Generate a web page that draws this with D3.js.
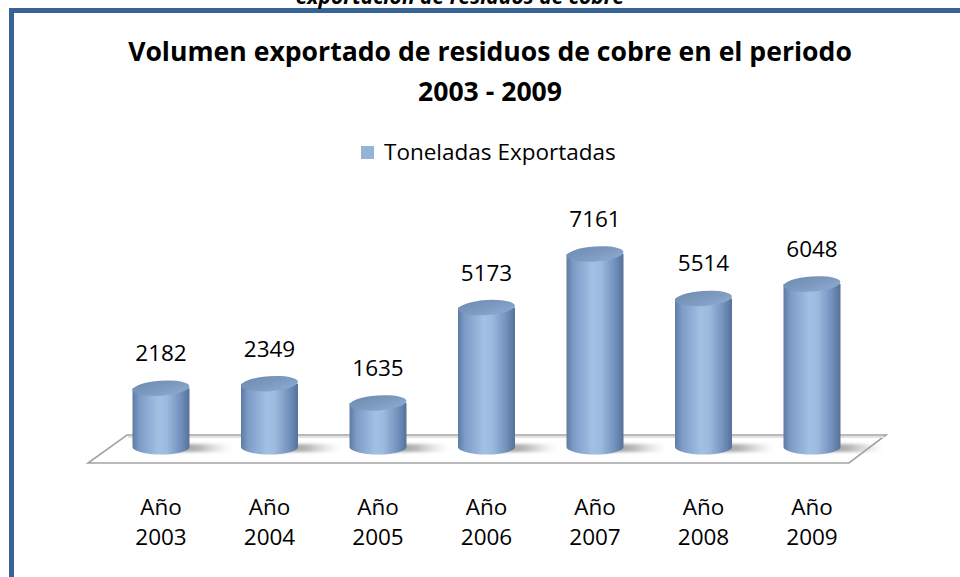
<!DOCTYPE html>
<html>
<head>
<meta charset="utf-8">
<script src="https://cdn.jsdelivr.net/npm/d3@7"></script>
<style>
  html, body { margin: 0; padding: 0; background: #fff; }
  svg { display: block; }
</style>
</head>
<body>
<script>
// ---- data ----
const categories = ["Año 2003", "Año 2004", "Año 2005", "Año 2006", "Año 2007", "Año 2008", "Año 2009"];
const values = [2182, 2349, 1635, 5173, 7161, 5514, 6048];
const seriesName = "Toneladas Exportadas";
const titleLines = ["Volumen exportado de residuos de cobre en el periodo", "2003 - 2009"];
const topCaption = "exportación de residuos de cobre";

const W = 960, H = 577;
const FONT = "'Open Sans', Lato, sans-serif";

const svg = d3.select("body").append("svg").attr("width", W).attr("height", H);
const defs = svg.append("defs");

// gradients
const bodyGrad = defs.append("linearGradient").attr("id", "cylBody").attr("x1", "0").attr("x2", "1").attr("y1", "0").attr("y2", "0");
[[0, "#5d7ba3"], [0.12, "#7c9bc6"], [0.45, "#a2bfe4"], [0.6, "#9db9de"], [0.85, "#7190bb"], [1, "#55719a"]]
  .forEach(([o, c]) => bodyGrad.append("stop").attr("offset", o).attr("stop-color", c));
const topGrad = defs.append("linearGradient").attr("id", "cylTop").attr("x1", "0").attr("x2", "1").attr("y1", "0").attr("y2", "1");
[[0, "#6e8bb3"], [0.5, "#7d99bf"], [1, "#8eabd2"]]
  .forEach(([o, c]) => topGrad.append("stop").attr("offset", o).attr("stop-color", c));
const shGrad = defs.append("linearGradient").attr("id", "shadowGrad").attr("x1", "0").attr("x2", "1").attr("y1", "0").attr("y2", "0");
[[0, "#6a6a6a", 0.85], [0.55, "#8a8a8a", 0.6], [1, "#bbbbbb", 0]]
  .forEach(([o, c, a]) => shGrad.append("stop").attr("offset", o).attr("stop-color", c).attr("stop-opacity", a));
const blur = defs.append("filter").attr("id", "shadowBlur").attr("x", "-50%").attr("y", "-200%").attr("width", "200%").attr("height", "500%");
blur.append("feGaussianBlur").attr("stdDeviation", "2 1.5");

// ---- frame border ----
svg.append("path")
  .attr("d", "M11.5,577 L11.5,10.5 L960,10.5")
  .attr("fill", "none").attr("stroke", "#386396").attr("stroke-width", 5);

// caption above the frame (cut off by the frame edge as in the reference)
svg.append("text")
  .attr("x", 460).attr("y", 4)
  .attr("text-anchor", "middle")
  .attr("font-family", FONT).attr("font-style", "italic").attr("font-weight", "bold")
  .attr("font-size", 21).attr("fill", "#000")
  .text(topCaption);

// ---- title ----
svg.append("g").selectAll("text").data(titleLines).join("text")
  .attr("x", 490).attr("y", (d, i) => 61 + i * 40)
  .attr("text-anchor", "middle")
  .attr("font-family", FONT).attr("font-weight", "bold").attr("font-size", 26.6)
  .attr("fill", "#000")
  .text(d => d);

// ---- legend ----
const legend = svg.append("g").attr("transform", "translate(361,146)");
legend.append("rect").attr("width", 13).attr("height", 13).attr("fill", "#95b3d7");
legend.append("text").attr("x", 23).attr("y", 14)
  .attr("font-family", FONT).attr("font-size", 22.5).attr("fill", "#000")
  .text(seriesName);

// ---- scales ----
const x = d3.scalePoint().domain(categories).range([161, 812]);
const y = d3.scaleLinear().domain([0, 8000]).range([447, 231.4]);
const rx = 28.5, ry = 7.5, tilt = -4;

// ---- floor ----
const floorBackY = 435, floorFrontY = 463;
svg.append("path")
  .attr("d", `M127,${floorBackY} L886,${floorBackY} L849,${floorFrontY} L88,${floorFrontY} Z`)
  .attr("fill", "#fff").attr("stroke", "#a3a3a3").attr("stroke-width", 1.6);
svg.append("line").attr("x1", 128).attr("x2", 884).attr("y1", floorBackY + 2).attr("y2", floorBackY + 2)
  .attr("stroke", "#e2e2e2").attr("stroke-width", 2);

// ---- bars (cylinders) ----
const bars = svg.append("g").selectAll("g").data(categories.map((c, i) => ({ c, v: values[i] }))).join("g");

// shadows (cast to the right of each cylinder's base)
bars.append("rect")
  .attr("x", d => x(d.c)).attr("y", y(0) - 3)
  .attr("width", rx + 42).attr("height", 8)
  .attr("fill", "url(#shadowGrad)")
  .attr("filter", "url(#shadowBlur)");

// body
bars.append("path")
  .attr("d", d => {
    const cx = x(d.c), yb = y(0), yt = y(d.v);
    return `M${cx - rx},${yt} L${cx - rx},${yb} A${rx},${ry} 0 0 0 ${cx + rx},${yb} L${cx + rx},${yt} Z`;
  })
  .attr("fill", "url(#cylBody)");

// top ellipse
bars.append("ellipse")
  .attr("cx", d => x(d.c)).attr("cy", d => y(d.v))
  .attr("rx", rx).attr("ry", ry)
  .attr("transform", d => `rotate(${tilt},${x(d.c)},${y(d.v)})`)
  .attr("fill", "url(#cylTop)");

// value labels
bars.append("text")
  .attr("x", d => x(d.c)).attr("y", d => y(d.v) - 27)
  .attr("text-anchor", "middle")
  .attr("font-family", FONT).attr("font-size", 22.5).attr("fill", "#000")
  .text(d => d.v);

// ---- category axis labels ----
const xAxis = svg.append("g");
categories.forEach(c => {
  const parts = c.split(" ");
  const t = xAxis.append("text")
    .attr("text-anchor", "middle")
    .attr("font-family", FONT).attr("font-size", 22.5).attr("fill", "#000");
  parts.forEach((p, i) => t.append("tspan").attr("x", x(c)).attr("y", 515 + i * 30).text(p));
});
</script>
</body>
</html>
